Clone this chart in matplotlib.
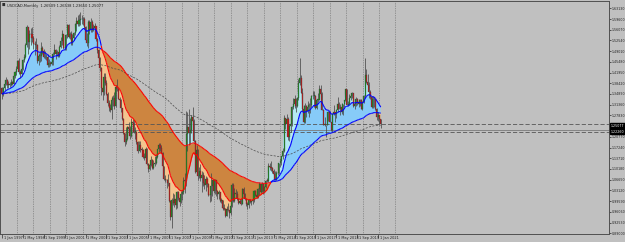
import numpy as np
import matplotlib
matplotlib.use("Agg")
import matplotlib.pyplot as plt
from matplotlib.collections import LineCollection
from matplotlib.transforms import blended_transform_factory

# USDCAD monthly bars, Jan 1997 .. Mar 2021 (open = previous close)
first_open = 1.370
closes = [
    1.349, 1.368, 1.383, 1.395, 1.379, 1.381, 1.378, 1.389, 1.383, 1.407, 1.420, 1.430,  # 1997
    1.458, 1.422, 1.415, 1.431, 1.460, 1.471, 1.511, 1.570, 1.520, 1.546, 1.546, 1.532,  # 1998
    1.514, 1.513, 1.509, 1.459, 1.475, 1.475, 1.502, 1.490, 1.470, 1.470, 1.470, 1.444,  # 1999
    1.452, 1.448, 1.453, 1.481, 1.494, 1.482, 1.486, 1.474, 1.503, 1.524, 1.546, 1.499,  # 2000
    1.502, 1.542, 1.576, 1.538, 1.545, 1.518, 1.532, 1.549, 1.579, 1.589, 1.578, 1.592,  # 2001
    1.595, 1.597, 1.595, 1.569, 1.528, 1.517, 1.586, 1.560, 1.586, 1.560, 1.567, 1.572,  # 2002
    1.530, 1.494, 1.469, 1.435, 1.370, 1.354, 1.404, 1.386, 1.350, 1.318, 1.302, 1.296,  # 2003
    1.328, 1.335, 1.310, 1.372, 1.365, 1.333, 1.329, 1.302, 1.266, 1.220, 1.190, 1.202,  # 2004
    1.240, 1.235, 1.210, 1.256, 1.254, 1.225, 1.225, 1.190, 1.161, 1.180, 1.166, 1.163,  # 2005
    1.141, 1.137, 1.166, 1.119, 1.102, 1.116, 1.131, 1.105, 1.117, 1.122, 1.141, 1.166,  # 2006
    1.180, 1.170, 1.154, 1.110, 1.070, 1.065, 1.066, 1.056, 0.995, 0.945, 0.998, 0.988,  # 2007
    1.004, 0.982, 1.027, 1.007, 0.992, 1.019, 1.025, 1.063, 1.062, 1.216, 1.240, 1.219,  # 2008
    1.229, 1.273, 1.259, 1.193, 1.091, 1.163, 1.078, 1.095, 1.071, 1.082, 1.056, 1.050,  # 2009
    1.069, 1.052, 1.015, 1.015, 1.046, 1.065, 1.028, 1.065, 1.028, 1.020, 1.025, 0.995,  # 2010
    1.001, 0.972, 0.970, 0.947, 0.970, 0.965, 0.955, 0.980, 1.048, 0.996, 1.021, 1.019,  # 2011
    1.003, 0.989, 0.997, 0.987, 1.035, 1.018, 1.003, 0.986, 0.983, 0.999, 0.993, 0.995,  # 2012
    0.998, 1.030, 1.016, 1.008, 1.037, 1.051, 1.027, 1.053, 1.030, 1.043, 1.063, 1.062,  # 2013
    1.113, 1.107, 1.105, 1.096, 1.084, 1.067, 1.090, 1.087, 1.120, 1.127, 1.143, 1.162,  # 2014
    1.271, 1.250, 1.267, 1.207, 1.244, 1.249, 1.307, 1.315, 1.334, 1.308, 1.335, 1.384,  # 2015
    1.400, 1.353, 1.298, 1.255, 1.308, 1.292, 1.305, 1.312, 1.312, 1.341, 1.343, 1.343,  # 2016
    1.302, 1.329, 1.330, 1.365, 1.349, 1.297, 1.247, 1.249, 1.248, 1.289, 1.290, 1.257,  # 2017
    1.230, 1.282, 1.288, 1.284, 1.297, 1.315, 1.300, 1.306, 1.291, 1.316, 1.329, 1.365,  # 2018
    1.314, 1.316, 1.336, 1.343, 1.352, 1.310, 1.316, 1.331, 1.324, 1.317, 1.329, 1.299,  # 2019
    1.324, 1.343, 1.410, 1.390, 1.378, 1.357, 1.339, 1.305, 1.333, 1.332, 1.298, 1.274,  # 2020
    1.279, 1.265, 1.2507,                                                                # 2021
]
highs = [
    1.372, 1.372, 1.387, 1.404, 1.398, 1.393, 1.388, 1.399, 1.393, 1.410, 1.424, 1.440,
    1.461, 1.466, 1.427, 1.440, 1.465, 1.480, 1.516, 1.577, 1.559, 1.560, 1.566, 1.570,
    1.540, 1.523, 1.534, 1.515, 1.483, 1.488, 1.520, 1.508, 1.498, 1.492, 1.480, 1.480,
    1.464, 1.459, 1.466, 1.488, 1.513, 1.497, 1.495, 1.488, 1.509, 1.537, 1.561, 1.545,
    1.517, 1.548, 1.581, 1.579, 1.552, 1.555, 1.547, 1.553, 1.583, 1.602, 1.609, 1.613,
    1.619, 1.608, 1.603, 1.603, 1.574, 1.550, 1.592, 1.593, 1.599, 1.592, 1.580, 1.582,
    1.574, 1.533, 1.498, 1.472, 1.437, 1.376, 1.418, 1.418, 1.395, 1.354, 1.329, 1.317,
    1.341, 1.346, 1.356, 1.380, 1.397, 1.372, 1.340, 1.333, 1.302, 1.269, 1.221, 1.241,
    1.245, 1.257, 1.243, 1.269, 1.267, 1.263, 1.240, 1.228, 1.194, 1.195, 1.194, 1.174,
    1.168, 1.156, 1.174, 1.170, 1.123, 1.130, 1.144, 1.135, 1.130, 1.145, 1.148, 1.168,
    1.186, 1.188, 1.180, 1.159, 1.113, 1.081, 1.069, 1.085, 1.057, 0.999, 1.006, 1.022,
    1.020, 1.016, 1.030, 1.029, 1.010, 1.028, 1.032, 1.074, 1.090, 1.294, 1.289, 1.300,
    1.271, 1.280, 1.307, 1.266, 1.197, 1.181, 1.168, 1.109, 1.117, 1.094, 1.092, 1.082,
    1.077, 1.075, 1.054, 1.024, 1.087, 1.066, 1.068, 1.069, 1.052, 1.031, 1.031, 1.026,
    1.006, 1.001, 0.987, 0.974, 0.980, 0.990, 0.965, 0.999, 1.054, 1.055, 1.040, 1.036,
    1.030, 1.003, 1.004, 1.004, 1.040, 1.042, 1.022, 1.002, 0.993, 1.004, 1.003, 0.995,
    1.007, 1.032, 1.033, 1.027, 1.040, 1.060, 1.053, 1.058, 1.053, 1.046, 1.065, 1.072,
    1.122, 1.120, 1.129, 1.107, 1.103, 1.094, 1.094, 1.100, 1.120, 1.138, 1.145, 1.171,
    1.278, 1.268, 1.284, 1.272, 1.249, 1.250, 1.310, 1.335, 1.346, 1.336, 1.340, 1.399,
    1.469, 1.413, 1.368, 1.312, 1.319, 1.314, 1.325, 1.319, 1.335, 1.346, 1.359, 1.360,
    1.345, 1.333, 1.351, 1.379, 1.379, 1.354, 1.301, 1.274, 1.248, 1.290, 1.292, 1.292,
    1.258, 1.284, 1.314, 1.290, 1.300, 1.338, 1.324, 1.315, 1.320, 1.317, 1.330, 1.366,
    1.366, 1.327, 1.350, 1.350, 1.357, 1.352, 1.323, 1.338, 1.336, 1.334, 1.334, 1.331,
    1.326, 1.347, 1.467, 1.430, 1.415, 1.387, 1.362, 1.342, 1.341, 1.339, 1.333, 1.303,
    1.291, 1.280, 1.2654,
]
lows = [
    1.334, 1.343, 1.363, 1.378, 1.368, 1.368, 1.373, 1.375, 1.377, 1.381, 1.401, 1.412,
    1.427, 1.416, 1.403, 1.408, 1.429, 1.453, 1.468, 1.505, 1.480, 1.497, 1.510, 1.519,
    1.498, 1.478, 1.498, 1.450, 1.445, 1.455, 1.458, 1.480, 1.467, 1.463, 1.462, 1.438,
    1.437, 1.441, 1.444, 1.446, 1.476, 1.464, 1.475, 1.470, 1.472, 1.502, 1.511, 1.496,
    1.493, 1.494, 1.534, 1.532, 1.529, 1.512, 1.512, 1.526, 1.543, 1.557, 1.574, 1.573,
    1.577, 1.580, 1.575, 1.562, 1.525, 1.508, 1.502, 1.547, 1.554, 1.553, 1.556, 1.553,
    1.523, 1.484, 1.459, 1.426, 1.346, 1.330, 1.347, 1.378, 1.347, 1.309, 1.293, 1.288,
    1.268, 1.310, 1.301, 1.306, 1.358, 1.332, 1.310, 1.290, 1.264, 1.216, 1.177, 1.183,
    1.196, 1.222, 1.199, 1.207, 1.232, 1.220, 1.200, 1.184, 1.154, 1.163, 1.157, 1.148,
    1.137, 1.130, 1.134, 1.116, 1.092, 1.098, 1.110, 1.101, 1.101, 1.110, 1.118, 1.139,
    1.159, 1.160, 1.154, 1.106, 1.065, 1.058, 1.040, 1.046, 0.993, 0.935, 0.906, 0.982,
    0.978, 0.970, 0.973, 0.999, 0.979, 0.991, 1.000, 1.019, 1.023, 1.047, 1.160, 1.180,
    1.185, 1.219, 1.228, 1.190, 1.088, 1.087, 1.066, 1.071, 1.061, 1.025, 1.045, 1.037,
    1.030, 1.042, 1.012, 0.993, 0.997, 1.013, 1.024, 1.019, 1.012, 1.004, 1.002, 0.994,
    0.989, 0.968, 0.968, 0.944, 0.946, 0.963, 0.941, 0.950, 0.976, 0.993, 0.994, 1.006,
    1.000, 0.986, 0.988, 0.982, 0.987, 1.014, 0.999, 0.981, 0.971, 0.973, 0.990, 0.983,
    0.985, 0.993, 1.013, 1.006, 1.005, 1.016, 1.024, 1.026, 1.020, 1.023, 1.039, 1.058,
    1.058, 1.098, 1.096, 1.090, 1.082, 1.066, 1.066, 1.081, 1.085, 1.108, 1.116, 1.133,
    1.159, 1.235, 1.242, 1.198, 1.194, 1.225, 1.243, 1.298, 1.304, 1.290, 1.306, 1.330,
    1.379, 1.352, 1.292, 1.252, 1.252, 1.273, 1.287, 1.273, 1.285, 1.305, 1.332, 1.305,
    1.300, 1.298, 1.321, 1.329, 1.342, 1.297, 1.246, 1.245, 1.206, 1.247, 1.261, 1.255,
    1.228, 1.225, 1.280, 1.256, 1.269, 1.291, 1.298, 1.281, 1.283, 1.278, 1.305, 1.325,
    1.311, 1.308, 1.313, 1.330, 1.335, 1.305, 1.301, 1.309, 1.314, 1.305, 1.310, 1.298,
    1.295, 1.319, 1.337, 1.386, 1.375, 1.335, 1.332, 1.302, 1.303, 1.307, 1.296, 1.263,
    1.259, 1.249, 1.2365,
]

date_labels = ["1 Jan 1997", "1 May 1998", "1 Sep 1999", "1 Jan 2001", "1 May 2002",
               "1 Sep 2003", "1 Jan 2005", "1 May 2006", "1 Sep 2007", "1 Jan 2009",
               "1 May 2010", "1 Sep 2011", "1 Jan 2013", "1 May 2014", "1 Sep 2015",
               "1 Jan 2017", "1 May 2018", "1 Sep 2019", "1 Jan 2021"]
price_ticks = [1.63130, 1.59600, 1.56070, 1.52540, 1.49010, 1.45480, 1.41950, 1.38420,
               1.34890, 1.31360, 1.27830, 1.24300, 1.20770, 1.17240, 1.13710, 1.10180,
               1.06650, 1.03120, 0.99590, 0.96060, 0.92530, 0.89000]
levels = [1.2507, 1.2300, 1.2226]
title = "USDCAD,Monthly  1.26509 1.26538 1.23650 1.25077"

closes = np.array(closes)
highs = np.array(highs)
lows = np.array(lows)
opens = np.concatenate([[first_open], closes[:-1]])
x = np.arange(len(closes))


def ema(values, n):
    a = 2.0 / (n + 1)
    out = np.empty(len(values))
    out[0] = values[0]
    for i in range(1, len(values)):
        out[i] = a * values[i] + (1 - a) * out[i - 1]
    return out


fast = closes
mid = ema(closes, 15)
slow = ema(closes, 70)
long_ma = ema(closes, 160)

bg = "#c0c0c0"
fig = plt.figure(figsize=(6.25, 2.42), dpi=100, facecolor=bg)
ax = fig.add_axes([0.0, 8 / 242, 609 / 625, 233 / 242], facecolor=bg)

ax.set_xlim(-1.5, 464.8)
ax.set_ylim(0.8874, 1.6554)

# vertical dotted grid
for gx in np.arange(11.5, 302, 12.6):
    ax.axvline(gx, color="#646464", lw=0.5, ls=(0, (1, 1.5)), zorder=0.5)

# ribbons
up1 = fast >= mid
ax.fill_between(x, fast, mid, where=up1, interpolate=True, color="#b4eaf2", lw=0, zorder=1)
ax.fill_between(x, fast, mid, where=~up1, interpolate=True, color="#f4c48e", lw=0, zorder=1)
up2 = mid >= slow
ax.fill_between(x, mid, slow, where=up2, interpolate=True, color="#87cbf8", lw=0, zorder=1)
ax.fill_between(x, mid, slow, where=~up2, interpolate=True, color="#cd8540", lw=0, zorder=1)

ax.plot(x, long_ma, color="#4a4a4a", lw=0.5, ls=(0, (3, 2)), zorder=2)

# candles
ax.vlines(x, lows, highs, color="#4a4a4a", lw=0.55, zorder=3)
body_col = np.where(closes >= opens, "#1f8f1f", "#c41a1a")
ax.bar(x, np.maximum(np.abs(closes - opens), 0.002), bottom=np.minimum(opens, closes),
       width=0.8, color=body_col, edgecolor="#3a3a3a", linewidth=0.2, zorder=3.5)


def colored_line(y, cond):
    pts = np.column_stack([x, y])
    segs = np.stack([pts[:-1], pts[1:]], axis=1)
    cols = np.where(cond[1:], "#0000ff", "#ff0000")
    ax.add_collection(LineCollection(segs, colors=cols, linewidths=0.8, zorder=4))


colored_line(mid, up2)
colored_line(slow, up2)

for lv, st, col in zip(levels, [(0, (5, 2.5)), "-", (0, (5, 2.5))], ["#555555", "#7a7a7a", "#555555"]):
    ax.axhline(lv, color=col, lw=0.6, ls=st, zorder=2.5)

# axes look
for s in ax.spines.values():
    s.set_color("#505050")
    s.set_linewidth(0.7)
ax.yaxis.tick_right()
ax.set_yticks(price_ticks)
ax.set_yticklabels([f"{v:.5f}" for v in price_ticks])
ax.tick_params(axis="y", labelsize=2.3, length=1.2, width=0.5, pad=0.8, colors="#202020")

label_pos = []
for lab in date_labels:
    _, mon, yr = lab.split()
    m = ["Jan", "Feb", "Mar", "Apr", "May", "Jun", "Jul", "Aug", "Sep", "Oct", "Nov", "Dec"].index(mon)
    label_pos.append((int(yr) - 1997) * 12 + m)
ax.set_xticks(label_pos)
ax.tick_params(axis="x", length=3, width=0.5, colors="#303030", labelbottom=False)
tr = blended_transform_factory(ax.transData, ax.transAxes)
for p, lab in zip(label_pos, date_labels):
    ax.text(p + 1.2, -0.01, lab, transform=tr, fontsize=2.5, ha="left", va="top", color="#202020")

# current price boxes
trr = blended_transform_factory(ax.transAxes, ax.transData)
for val, txt in [(1.2430, "1.25077"), (1.2246, "1.22260")]:
    ax.text(1.003, val, txt, transform=trr, fontsize=2.3, color="white", va="center", ha="left",
            bbox=dict(boxstyle="square,pad=0.2", fc="black", ec="black"), zorder=6)

ax.text(0.003, 0.99, "\u25a0", transform=ax.transAxes, fontsize=2.6, va="top", color="#303030")
ax.text(0.011, 0.988, title, transform=ax.transAxes, fontsize=2.6, va="top", color="#202020")

fig.savefig("out.png", dpi=100, facecolor=bg)
